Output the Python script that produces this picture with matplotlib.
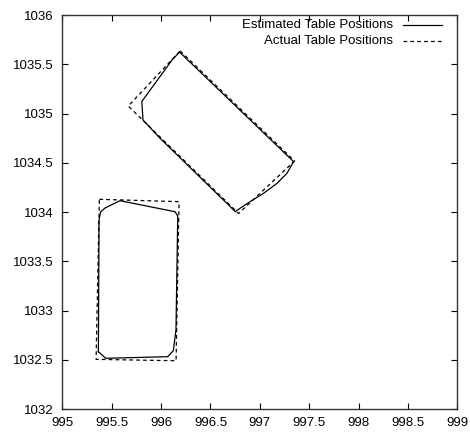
import matplotlib
matplotlib.use("Agg")
import matplotlib.pyplot as plt
from matplotlib.lines import Line2D

plt.rcParams['font.family'] = ['Liberation Sans', 'DejaVu Sans']

# table 1 (lower) - estimated outline
est1_x = [995.365, 995.372, 995.387, 995.433, 995.584, 996.141, 996.169, 996.151,
          996.124, 996.067, 995.440, 995.365]
est1_y = [1032.582, 1033.919, 1034.000, 1034.041, 1034.115, 1034.003, 1033.959, 1032.802,
          1032.592, 1032.531, 1032.515, 1032.582]
# table 1 - actual corners
act1_x = [995.375, 996.182, 996.152, 995.342, 995.375]
act1_y = [1034.129, 1034.105, 1032.490, 1032.504, 1034.129]

# table 2 (upper, rotated) - estimated outline
est2_x = [996.187, 997.342, 997.275, 997.174, 997.038, 996.901, 996.800, 996.752,
          996.701, 995.990, 995.817, 995.805, 996.111, 996.187]
est2_y = [1035.624, 1034.511, 1034.393, 1034.291, 1034.190, 1034.105, 1034.038, 1034.003,
          1034.054, 1034.748, 1034.934, 1035.122, 1035.543, 1035.624]
# table 2 - actual corners
act2_x = [996.193, 997.352, 996.785, 995.668, 996.193]
act2_y = [1035.635, 1034.518, 1033.985, 1035.076, 1035.635]

xticks = [995, 995.5, 996, 996.5, 997, 997.5, 998, 998.5, 999]
yticks = [1032, 1032.5, 1033, 1033.5, 1034, 1034.5, 1035, 1035.5, 1036]

dash = (0, (3, 2.5))

fig = plt.figure(figsize=(4.7, 4.34), dpi=100)
ax = fig.add_axes([0.1326, 0.0576, 0.8404, 0.9078])

ax.plot(est1_x, est1_y, color='black', lw=0.9)
ax.plot(est2_x, est2_y, color='black', lw=0.9)
ax.plot(act1_x, act1_y, color='black', lw=0.9, linestyle=dash)
ax.plot(act2_x, act2_y, color='black', lw=0.9, linestyle=dash)

ax.set_xlim(995, 999)
ax.set_ylim(1032, 1036)
ax.set_xticks(xticks)
ax.set_yticks(yticks)
ax.set_xticklabels(['%g' % v for v in xticks])
ax.set_yticklabels(['%g' % v for v in yticks])
ax.tick_params(direction='in', length=4, width=0.8, top=True, right=True,
               labelsize=9.5, pad=6)
for s in ax.spines.values():
    s.set_linewidth(1.0)
    s.set_color('#333333')

# gnuplot-style key: right-aligned labels, sample line after the text
labels = ['Estimated Table Positions', 'Actual Table Positions']
styles = ['-', dash]
rows = [0.974, 0.933]
for lab, st, yy in zip(labels, styles, rows):
    ax.text(0.837, yy, lab, transform=ax.transAxes, ha='right', va='center',
            fontsize=9.5)
    ax.add_line(Line2D([0.863, 0.962], [yy, yy], transform=ax.transAxes,
                       color='black', lw=0.9, linestyle=st))

fig.savefig('out.png', dpi=100)
